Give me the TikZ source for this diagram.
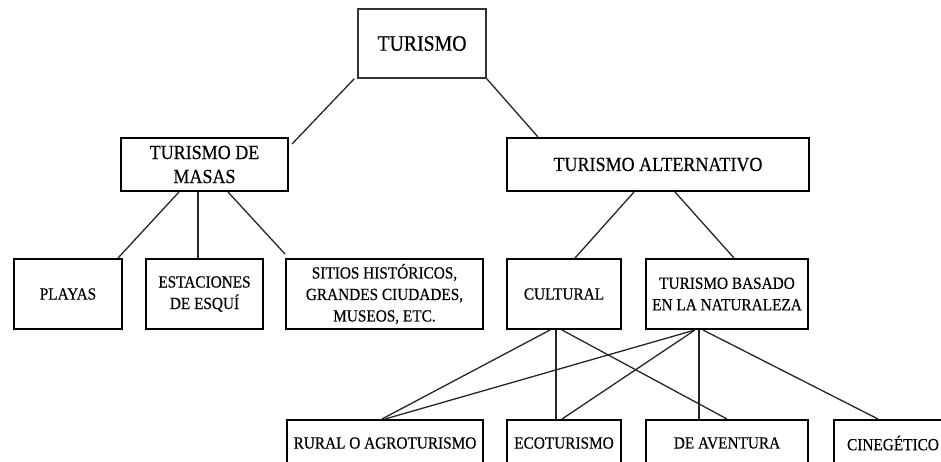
\documentclass[tikz,border=0pt]{standalone}
\usepackage{fontspec}
\setmainfont[FakeStretch=0.9,FakeBold=0.4]{Liberation Serif}
\usetikzlibrary{calc}
\begin{document}
\begin{tikzpicture}[x=1pt,y=-1pt,
  box/.style={draw=black, line width=2pt, inner sep=0pt, align=center,
    font=\fontsize{17}{21.5}\selectfont},
  midbox/.style={box, minimum height=53pt, font=\fontsize{20}{24}\selectfont},
  lowbox/.style={box, minimum height=70pt},
  botbox/.style={box, minimum height=46pt},
  topbox/.style={box, line width=1.4pt, draw=black!80, font=\fontsize{22}{26}\selectfont,
    minimum width=128pt, minimum height=69pt},
  conn/.style={line width=1.3pt, draw=black!85}]
\clip (0,0) rectangle (941,461);
\fill[white] (0,0) rectangle (941,461);
\node[topbox] (top) at (422,43.5) {TURISMO};
\node[midbox, minimum width=167pt] (masas) at (204.5,164.5) {TURISMO DE\\MASAS};
\node[midbox, minimum width=302pt] (alt) at (658,164.5) {TURISMO ALTERNATIVO};
\node[lowbox, minimum width=108pt] (playas) at (68,294) {PLAYAS};
\node[lowbox, minimum width=117pt] (estaciones) at (204.5,294) {ESTACIONES\\DE ESQUÍ};
\node[lowbox, minimum width=197pt] (sitios) at (384.5,294) {SITIOS HISTÓRICOS,\\GRANDES CIUDADES,\\MUSEOS, ETC.};
\node[lowbox, minimum width=114pt] (cultural) at (564,294) {CULTURAL};
\node[lowbox, minimum width=162pt] (naturaleza) at (727,294) {TURISMO BASADO\\EN LA NATURALEZA};
\node[botbox, minimum width=196pt] (rural) at (385,443) {RURAL O AGROTURISMO};
\node[botbox, minimum width=114pt] (eco) at (564,443) {ECOTURISMO};
\node[botbox, minimum width=162pt] (aventura) at (727,443) {DE AVENTURA};
\node[botbox, minimum width=118pt] (cine) at (893,443) {CINEGÉTICO};
\draw[conn] ([xshift=-3pt]top.south west) -- ([xshift=3pt,yshift=-7pt]masas.north east);
\draw[conn] (top.south east) -- ([xshift=32pt]alt.north west);
\draw[conn] ([xshift=-25.5pt]masas.south) -- ([xshift=-5pt]playas.north east);
\draw[conn] ([xshift=-6.5pt]masas.south) -- ([xshift=-6.5pt]estaciones.north);
\draw[conn] ([xshift=23.5pt]masas.south) -- ([yshift=4pt]sitios.north west);
\draw[conn] ([xshift=-24pt]alt.south) -- ([xshift=11pt]cultural.north);
\draw[conn] ([xshift=17pt]alt.south) -- ([xshift=7pt]naturaleza.north);
\draw[conn] ([xshift=-14pt]cultural.south) -- ([xshift=-3pt]rural.north);
\draw[conn] ([xshift=-8pt]cultural.south) -- ([xshift=-8pt]eco.north);
\draw[conn] ([xshift=-2pt]cultural.south) -- (aventura.north);
\draw[conn] ([xshift=-32pt]naturaleza.south) -- (rural.north);
\draw[conn] ([xshift=-32pt]naturaleza.south) -- ([xshift=-2pt]eco.north);
\draw[conn] ([xshift=-28pt]naturaleza.south) -- ([xshift=-28pt]aventura.north);
\draw[conn] ([xshift=-24pt]naturaleza.south) -- ([xshift=45pt]cine.north west);
\end{tikzpicture}
\end{document}
